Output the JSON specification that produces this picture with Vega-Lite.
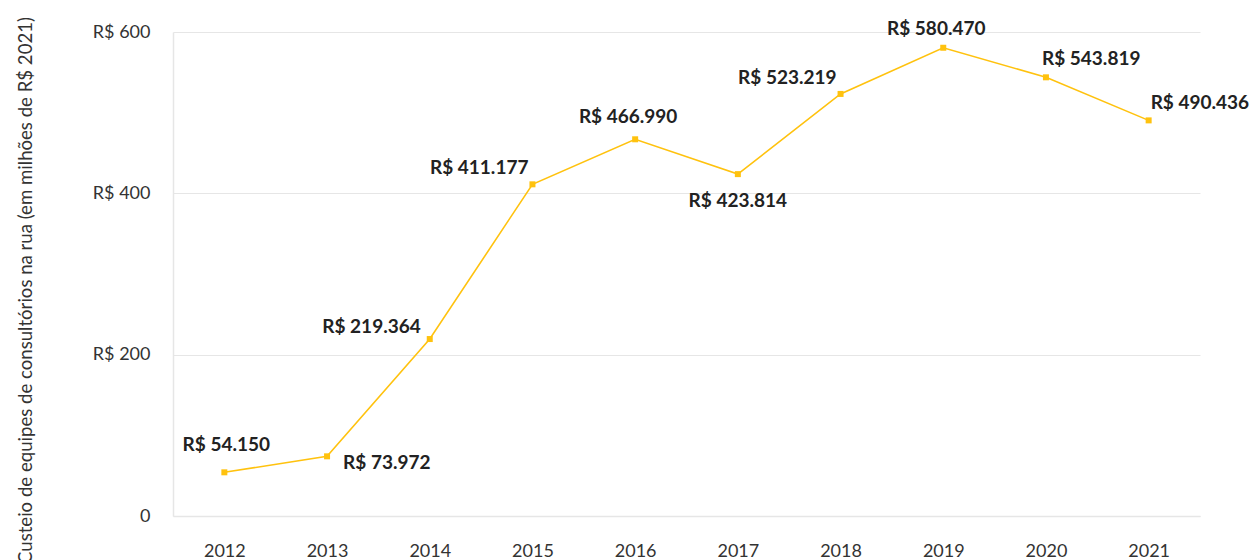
{
  "$schema": "https://vega.github.io/schema/vega-lite/v6.json",
  "width": 1027,
  "height": 484,
  "autosize": {"type": "none"},
  "padding": {"left": 173, "top": 32, "right": 50, "bottom": 44},
  "background": "white",
  "config": {
    "font": "Lato",
    "view": {"stroke": null}
  },
  "data": {
    "values": [
      {"ano": "2012", "valor": 54.150, "rotulo": "R$ 54.150"},
      {"ano": "2013", "valor": 73.972, "rotulo": "R$ 73.972"},
      {"ano": "2014", "valor": 219.364, "rotulo": "R$ 219.364"},
      {"ano": "2015", "valor": 411.177, "rotulo": "R$ 411.177"},
      {"ano": "2016", "valor": 466.990, "rotulo": "R$ 466.990"},
      {"ano": "2017", "valor": 423.814, "rotulo": "R$ 423.814"},
      {"ano": "2018", "valor": 523.219, "rotulo": "R$ 523.219"},
      {"ano": "2019", "valor": 580.470, "rotulo": "R$ 580.470"},
      {"ano": "2020", "valor": 543.819, "rotulo": "R$ 543.819"},
      {"ano": "2021", "valor": 490.436, "rotulo": "R$ 490.436"}
    ]
  },
  "encoding": {
    "x": {
      "field": "ano", "type": "ordinal",
      "scale": {"type": "point", "padding": 0.5},
      "axis": {
        "title": null, "labelAngle": 0, "ticks": false,
        "domainColor": "#e6e6e6", "domainWidth": 1.5,
        "labelFontSize": 18, "labelColor": "#333333", "labelPadding": 26,
        "labelBaseline": "top"
      }
    },
    "y": {
      "field": "valor", "type": "quantitative",
      "scale": {"domain": [0, 600], "nice": false},
      "axis": {
        "values": [0, 200, 400, 600],
        "labelExpr": "datum.value == 0 ? '0' : 'R$ ' + datum.value",
        "title": "Custeio de equipes de consultórios na rua (em milhões de R$ 2021)",
        "titleFontSize": 18.6, "titleFontWeight": "normal", "titleColor": "#333333",
        "titleX": -142, "titleY": 258, "titleBaseline": "alphabetic", "titleAngle": -90, "titleAlign": "center",
        "ticks": false, "domainColor": "#e6e6e6", "domainWidth": 1.5,
        "gridColor": "#e6e6e6", "gridWidth": 1,
        "labelFontSize": 18, "labelColor": "#333333", "labelPadding": 23
      }
    }
  },
  "layer": [
    {"mark": {"type": "line", "color": "#FFC20E", "strokeWidth": 1.6}},
    {"mark": {"type": "square", "color": "#FFC20E", "size": 36, "opacity": 1, "filled": true}},
    {
      "transform": [{"filter": "datum.ano == '2012'"}],
      "mark": {"type": "text", "fontSize": 19, "fontWeight": "bold", "color": "#222222", "align": "center", "baseline": "middle", "dx": 2, "dy": -27},
      "encoding": {"text": {"field": "rotulo"}}
    },
    {
      "transform": [{"filter": "datum.ano == '2016'"}],
      "mark": {"type": "text", "fontSize": 19, "fontWeight": "bold", "color": "#222222", "align": "center", "baseline": "middle", "dx": -7, "dy": -22},
      "encoding": {"text": {"field": "rotulo"}}
    },
    {
      "transform": [{"filter": "datum.ano == '2019'"}],
      "mark": {"type": "text", "fontSize": 19, "fontWeight": "bold", "color": "#222222", "align": "center", "baseline": "middle", "dx": -7, "dy": -19},
      "encoding": {"text": {"field": "rotulo"}}
    },
    {
      "transform": [{"filter": "datum.ano == '2017'"}],
      "mark": {"type": "text", "fontSize": 19, "fontWeight": "bold", "color": "#222222", "align": "center", "baseline": "middle", "dy": 27},
      "encoding": {"text": {"field": "rotulo"}}
    },
    {
      "transform": [{"filter": "datum.ano == '2013'"}],
      "mark": {"type": "text", "fontSize": 19, "fontWeight": "bold", "color": "#222222", "align": "left", "baseline": "middle", "dx": 16, "dy": 7},
      "encoding": {"text": {"field": "rotulo"}}
    },
    {
      "transform": [{"filter": "datum.ano == '2014'"}],
      "mark": {"type": "text", "fontSize": 19, "fontWeight": "bold", "color": "#222222", "align": "right", "baseline": "middle", "dx": -9, "dy": -12},
      "encoding": {"text": {"field": "rotulo"}}
    },
    {
      "transform": [{"filter": "datum.ano == '2015' || datum.ano == '2018'"}],
      "mark": {"type": "text", "fontSize": 19, "fontWeight": "bold", "color": "#222222", "align": "right", "baseline": "middle", "dx": -4, "dy": -16},
      "encoding": {"text": {"field": "rotulo"}}
    },
    {
      "transform": [{"filter": "datum.ano == '2020'"}],
      "mark": {"type": "text", "fontSize": 19, "fontWeight": "bold", "color": "#222222", "align": "left", "baseline": "middle", "dx": -4, "dy": -18},
      "encoding": {"text": {"field": "rotulo"}}
    },
    {
      "transform": [{"filter": "datum.ano == '2021'"}],
      "mark": {"type": "text", "fontSize": 19, "fontWeight": "bold", "color": "#222222", "align": "left", "baseline": "middle", "dx": 2, "dy": -17},
      "encoding": {"text": {"field": "rotulo"}}
    }
  ]
}
